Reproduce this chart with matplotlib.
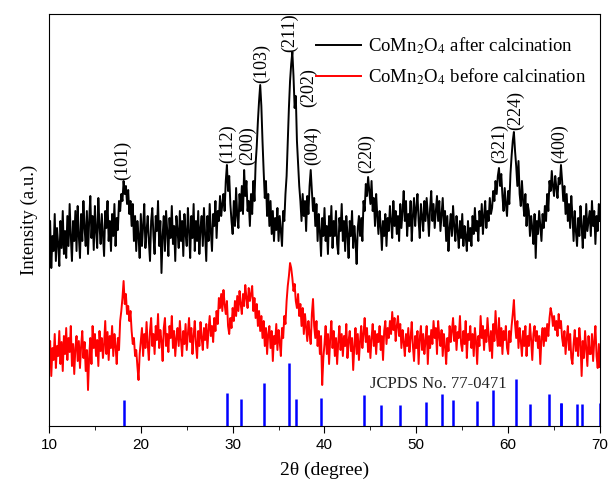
import numpy as np
import matplotlib
matplotlib.use("Agg")
import matplotlib.pyplot as plt
from matplotlib.ticker import MultipleLocator

plt.rcParams['mathtext.fontset'] = 'stix'

# XRD intensities (a.u.), 2-theta from 10 to 70 in 0.125 degree steps (one row per degree)
after_calc = [
    170, 205, 158, 190, 175, 212, 165, 198,
    182, 160, 205, 178, 215, 172, 195, 168,
    210, 180, 222, 190, 165, 205, 185, 215,
    175, 220, 190, 168, 212, 185, 225, 198,
    180, 215, 172, 205, 230, 188, 210, 176,
    220, 195, 178, 228, 200, 182, 212, 190,
    170, 215, 198, 225, 185, 205, 175, 212,
    190, 222, 180, 208, 196, 225, 215, 232,
    225, 245, 232, 240, 222, 236, 212, 225,
    200, 222, 185, 210, 175, 205, 190, 168,
    212, 180, 200, 222, 178, 195, 210, 185,
    165, 205, 218, 190, 172, 210, 195, 225,
    180, 205, 153, 190, 210, 175, 215, 195,
    170, 208, 188, 220, 182, 200, 165, 210,
    195, 178, 215, 185, 205, 170, 212, 192,
    180, 218, 195, 168, 210, 188, 222, 175,
    205, 185, 215, 172, 198, 210, 180, 218,
    192, 165, 210, 185, 222, 195, 175, 212,
    200, 225, 188, 215, 205, 230, 210, 222,
    232, 215, 245, 261, 235, 250, 222, 205,
    192, 225, 200, 238, 210, 198, 232, 215,
    240, 212, 256, 230, 245, 215, 225, 200,
    232, 212, 245, 225, 262, 280, 305, 325,
    341, 320, 285, 255, 228, 245, 210, 232,
    200, 225, 192, 215, 185, 208, 196, 218,
    185, 210, 195, 180, 215, 205, 232, 250,
    285, 318, 345, 362, 374, 350, 318, 330,
    285, 262, 240, 225, 205, 232, 210, 225,
    195, 230, 212, 240, 256, 235, 215, 228,
    200, 222, 185, 212, 195, 170, 208, 190,
    218, 185, 200, 172, 210, 190, 220, 178,
    205, 190, 215, 182, 172, 208, 195, 222,
    185, 205, 175, 210, 192, 168, 205, 190,
    215, 178, 200, 185, 162, 198, 210, 190,
    208, 185, 225, 215, 242, 230, 249, 235,
    222, 245, 215, 228, 200, 232, 210, 192,
    215, 200, 176, 205, 190, 212, 180, 208,
    195, 220, 205, 188, 225, 200, 215, 192,
    210, 185, 222, 198, 215, 235, 205, 225,
    190, 212, 200, 225, 185, 210, 228, 200,
    218, 232, 205, 188, 222, 210, 195, 225,
    205, 228, 212, 190, 218, 235, 205, 222,
    198, 215, 230, 205, 225, 195, 212, 228,
    200, 215, 185, 210, 175, 198, 212, 190,
    220, 200, 185, 210, 195, 178, 205, 188,
    212, 180, 200, 190, 175, 205, 185, 198,
    180, 210, 192, 218, 195, 205, 185, 215,
    200, 222, 192, 210, 225, 198, 215, 205,
    228, 212, 218, 235, 225, 245, 232, 250,
    258, 240, 252, 230, 215, 238, 222, 210,
    235, 222, 252, 270, 285, 294, 275, 260,
    240, 265, 232, 220, 245, 225, 210, 232,
    200, 222, 215, 190, 210, 198, 182, 212,
    168, 205, 192, 215, 200, 185, 212, 198,
    220, 205, 232, 215, 245, 235, 255, 240,
    230, 250, 238, 228, 248, 242, 261, 245,
    225, 240, 212, 232, 205, 222, 198, 230,
    210, 185, 215, 195, 180, 208, 190, 220,
    200, 178, 210, 188, 222, 195, 205, 215,
    190, 225, 200, 215, 182, 210, 195, 222,
    205,
]
before_calc = [
    62, 85, 50, 78, 66, 92, 58, 80,
    70, 95, 62, 84, 55, 90, 72, 98,
    66, 88, 74, 100, 60, 82, 52, 78,
    90, 65, 85, 58, 80, 95, 68, 84,
    55, 76, 36, 70, 88, 62, 100, 78,
    92, 70, 86, 60, 95, 75, 88, 68,
    82, 105, 72, 94, 66, 90, 78, 100,
    70, 92, 80, 62, 88, 76, 105, 115,
    128, 145, 122, 132, 112, 120, 105, 115,
    95, 82, 88, 70, 76, 60, 46, 72,
    85, 98, 70, 92, 78, 104, 82, 66,
    95, 108, 80, 92, 72, 100, 86, 112,
    78, 96, 85, 65, 98, 108, 80, 92,
    74, 100, 88, 110, 78, 95, 70, 88,
    98, 80, 105, 86, 70, 95, 82, 102,
    76, 92, 108, 84, 98, 72, 90, 105,
    82, 68, 95, 80, 104, 88, 76, 98,
    86, 102, 78, 96, 110, 90, 100, 84,
    108, 95, 115, 102, 128, 118, 132, 115,
    136, 122, 112, 125, 100, 92, 108, 98,
    118, 105, 125, 110, 130, 115, 135, 122,
    112, 132, 120, 141, 128, 118, 138, 125,
    132, 140, 115, 128, 108, 122, 100, 115,
    95, 110, 88, 105, 80, 98, 72, 92,
    100, 78, 95, 65, 90, 82, 102, 76,
    96, 84, 70, 98, 88, 110, 102, 125,
    140, 150, 163, 158, 148, 135, 142, 125,
    118, 132, 110, 122, 100, 118, 92, 112,
    98, 85, 105, 92, 82, 112, 127, 100,
    88, 105, 80, 95, 72, 90, 41, 68,
    82, 100, 72, 92, 62, 88, 105, 78,
    95, 70, 88, 62, 84, 100, 76, 92,
    70, 90, 80, 102, 68, 85, 95, 75,
    88, 56, 80, 98, 72, 92, 66, 85,
    100, 78, 92, 108, 84, 98, 74, 90,
    68, 88, 102, 80, 95, 72, 92, 84,
    100, 76, 90, 66, 95, 105, 82, 98,
    88, 105, 92, 114, 96, 108, 85, 100,
    110, 90, 102, 78, 96, 84, 70, 92,
    80, 98, 74, 88, 104, 80, 65, 90,
    78, 95, 62, 88, 100, 76, 92, 72,
    85, 100, 62, 90, 78, 96, 82, 105,
    88, 98, 72, 105, 90, 80, 96, 70,
    92, 80, 62, 88, 75, 100, 84, 95,
    108, 85, 100, 76, 94, 88, 110, 82,
    75, 95, 82, 105, 68, 92, 86, 100,
    78, 92, 70, 98, 85, 62, 90, 80,
    110, 88, 100, 76, 96, 84, 108, 90,
    75, 95, 68, 102, 85, 115, 92, 80,
    108, 80, 98, 72, 95, 86, 100, 78,
    72, 95, 84, 100, 112, 126, 102, 88,
    105, 78, 98, 85, 70, 95, 80, 100,
    70, 90, 80, 102, 86, 66, 92, 100,
    85, 95, 78, 90, 62, 88, 98, 80,
    98, 85, 102, 90, 108, 118, 112, 100,
    110, 96, 105, 90, 112, 98, 105, 88,
    80, 95, 72, 88, 100, 76, 92, 68,
    62, 82, 96, 75, 88, 70, 98, 84,
    50, 85, 68, 95, 78, 60, 90, 72,
    72, 92, 65, 85, 100, 70, 58, 82,
    59,
]

# reference card lines
jcpds_pos = [18.18, 29.37, 30.94, 33.38, 36.1, 36.86, 39.64, 44.3, 46.1, 48.2, 51.1,
             52.8, 54.0, 56.6, 58.4, 60.9, 62.4, 64.4, 65.7, 65.8, 67.5, 68.0, 70.0]
jcpds_int = [26, 33, 27, 43, 63, 27, 28, 31, 21, 21, 24,
             32, 26, 25, 36, 47, 22, 32, 23, 23, 22, 22, 23]

# hkl labels: (text, 2theta, bottom of label in a.u.)
hkl_labels = [("(101)", 18.0, 246), ("(112)", 29.4, 263), ("(200)", 31.6, 261),
              ("(103)", 33.1, 343), ("(211)", 36.2, 374), ("(202)", 38.3, 319),
              ("(004)", 38.75, 261), ("(220)", 44.6, 253), ("(321)", 59.1, 263),
              ("(224)", 60.8, 296), ("(400)", 65.6, 263)]

x_after = np.linspace(10, 70, len(after_calc))
x_before = np.linspace(10, 70, len(before_calc))

fig = plt.figure(figsize=(6.1, 4.79), dpi=100)
ax = fig.add_axes([0.0803, 0.1106, 0.9033, 0.8602])

serif = 'Liberation Serif'

ax.plot(x_after, after_calc, color='black', lw=1.4,
        label=r'CoMn$_2$O$_4$ after calcination')
ax.plot(x_before, before_calc, color='red', lw=1.4,
        label=r'CoMn$_2$O$_4$ before calcination')
ax.vlines(jcpds_pos, 0, jcpds_int, color='blue', lw=1.8)

for txt, xp, yp in hkl_labels:
    ax.text(xp, yp, txt, rotation=90, ha='center', va='bottom',
            fontsize=13, family=serif, clip_on=True)

ax.text(45.0, 42, "JCPDS No. 77-0471", fontsize=12, family=serif,
        ha='left', va='center', color='#222222')

ax.set_xlim(10, 70)
ax.set_ylim(0, 412)
ax.set_yticks([])
ax.xaxis.set_major_locator(MultipleLocator(10))
ax.xaxis.set_minor_locator(MultipleLocator(5))
ax.tick_params(axis='x', which='major', direction='out', length=5, labelsize=11)
ax.tick_params(axis='x', which='minor', direction='out', length=3)
for lab in ax.get_xticklabels():
    lab.set_family('Liberation Sans')

ax.set_xlabel('2θ (degree)', fontsize=14, family=serif, labelpad=7)
ax.set_ylabel('Intensity (a.u.)', fontsize=13.5, family=serif, labelpad=8)

leg = ax.legend(loc='upper left', bbox_to_anchor=(0.485, 0.948), frameon=False,
                handlelength=2.4, handletextpad=0.35, labelspacing=0.55,
                borderpad=0, borderaxespad=0, prop={'family': serif, 'size': 13.5})

fig.savefig('out.png', dpi=100)
